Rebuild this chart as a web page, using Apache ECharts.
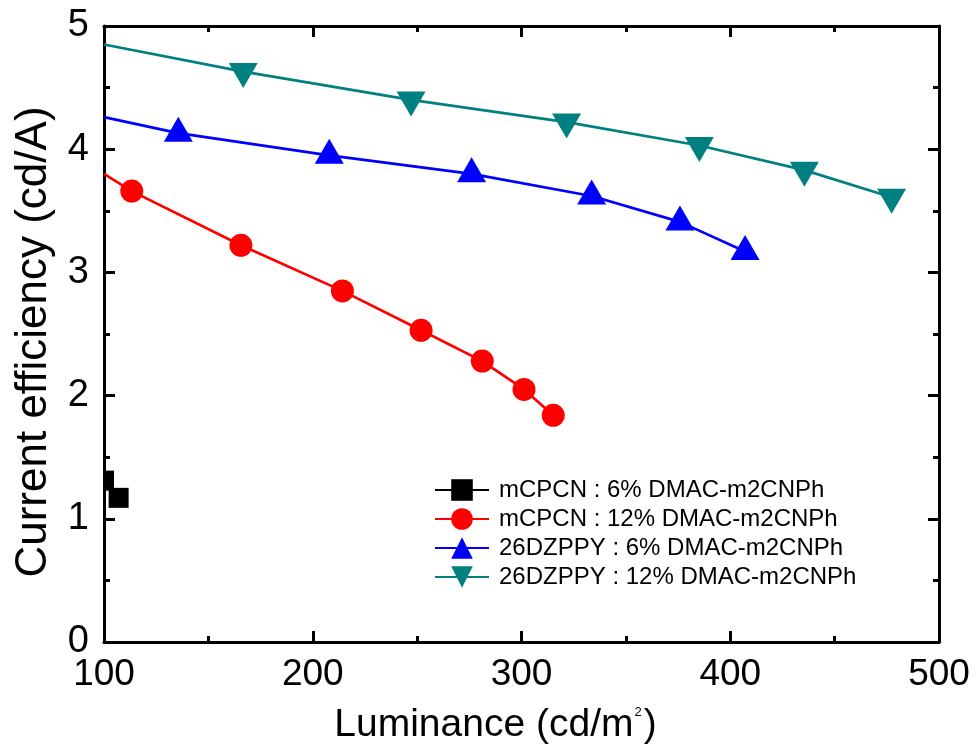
<!DOCTYPE html>
<html><head><meta charset="utf-8">
<script src="https://cdn.jsdelivr.net/npm/echarts@6/dist/echarts.min.js"></script>
<style>html,body{margin:0;padding:0;background:#fff}#c{width:977px;height:751px}</style>
</head><body><div id="c"></div>
<script>
const seriesNames = ['mCPCN : 6% DMAC-m2CNPh', 'mCPCN : 12% DMAC-m2CNPh', '26DZPPY : 6% DMAC-m2CNPh', '26DZPPY : 12% DMAC-m2CNPh'];
const blackX = [100, 107];
const blackY = [1.31, 1.17];
const redX = [100, 113.3, 165.6, 214.2, 251.9, 281.2, 301.2, 315.2];
const redY = [3.80, 3.66, 3.22, 2.85, 2.53, 2.28, 2.05, 1.84];
const blueX = [100, 135.6, 207.9, 276.1, 333.6, 375.9, 407.1];
const blueY = [4.26, 4.13, 3.95, 3.80, 3.62, 3.41, 3.17];
const tealX = [100, 166.7, 247.1, 321.6, 385.2, 435.5, 477.3];
const tealY = [4.85, 4.63, 4.40, 4.22, 4.03, 3.83, 3.61];
const xTicks = {min: 100, max: 500, interval: 100};
const yTicks = {min: 0, max: 5, interval: 1};

const FONT = 'Liberation Sans, Arial, sans-serif';
function pts(xs, ys, firstHidden) {
  return xs.map((x, i) => {
    const d = {value: [x, ys[i]]};
    if (i === 0 && firstHidden) d.symbol = 'none';
    return d;
  });
}
const blackData = pts(blackX, blackY, false);
// first black marker sits on the axis and is clipped to its right half
blackData[0].symbol = 'path://M0,0 H1 V2 H0 Z';
blackData[0].symbolSize = [10, 20];
blackData[0].symbolOffset = [5, 0];

const axisLineStyle = {color: '#000', width: 3};
function xAxisDef(pos, showLabel) {
  return {
    type: 'value', position: pos, min: xTicks.min, max: xTicks.max, interval: xTicks.interval,
    axisLine: {show: true, onZero: false, lineStyle: axisLineStyle},
    axisTick: {show: true, inside: true, length: 11, lineStyle: {color: '#000', width: 3}},
    minorTick: {show: true, splitNumber: 2, length: 6, lineStyle: {color: '#000', width: 3}},
    splitLine: {show: false},
    axisLabel: {show: showLabel, color: '#000', fontSize: 37, fontFamily: FONT, margin: 14},
  };
}
function yAxisDef(pos, showLabel) {
  return {
    type: 'value', position: pos, min: yTicks.min, max: yTicks.max, interval: yTicks.interval,
    axisLine: {show: true, onZero: false, lineStyle: axisLineStyle},
    axisTick: {show: true, inside: true, length: 11, lineStyle: {color: '#000', width: 3}},
    minorTick: {show: true, splitNumber: 2, length: 6, lineStyle: {color: '#000', width: 3}},
    splitLine: {show: false},
    axisLabel: {show: showLabel, color: '#000', fontSize: 38, fontFamily: FONT, margin: 15},
  };
}
const xa0 = xAxisDef('bottom', true);
xa0.name = 'Luminance (cd/m{sup|2})';
xa0.nameLocation = 'middle';
xa0.nameGap = 64;
xa0.nameTextStyle = {color: '#000', fontSize: 39, fontFamily: FONT, padding: [0, 52, 0, 0],
  rich: {sup: {fontSize: 13, fontFamily: FONT, color: '#000', verticalAlign: 'top', padding: [0, 2, 0, 1]}}};
const ya0 = yAxisDef('left', true);
ya0.name = 'Current efficiency (cd/A)';
ya0.nameLocation = 'middle';
ya0.nameGap = 48;
ya0.nameTextStyle = {color: '#000', fontSize: 44, fontFamily: FONT, padding: [0, 16, 0, 0]};

const chart = echarts.init(document.getElementById('c'), null, {renderer: 'canvas'});
chart.setOption({
  animation: false,
  backgroundColor: '#fff',
  grid: {left: 104, right: 38, top: 26, bottom: 109, containLabel: false},
  xAxis: [xa0, xAxisDef('top', false)],
  yAxis: [ya0, yAxisDef('right', false)],
  legend: {
    left: 429, top: 473, orient: 'vertical',
    itemWidth: 54, itemHeight: 27, itemGap: 5,
    textStyle: {color: '#000', fontSize: 24, fontFamily: FONT, padding: [0, 0, 0, 5]},
    data: seriesNames
  },
  series: [
    {name: seriesNames[0], type: 'line', data: blackData, symbol: 'rect', symbolSize: 20,
     color: '#000', lineStyle: {width: 2.7, color: '#000'}, itemStyle: {color: '#000'}, clip: true},
    {name: seriesNames[1], type: 'line', data: pts(redX, redY, true), symbol: 'circle', symbolSize: 23,
     color: '#ff0000', lineStyle: {width: 2.7, color: '#ff0000'}, itemStyle: {color: '#ff0000'}, clip: true},
    {name: seriesNames[2], type: 'line', data: pts(blueX, blueY, true), symbol: 'triangle', symbolSize: [29, 25],
     symbolOffset: [0, -4],
     color: '#0000ff', lineStyle: {width: 2.7, color: '#0000ff'}, itemStyle: {color: '#0000ff'}, clip: true},
    {name: seriesNames[3], type: 'line', data: pts(tealX, tealY, true), symbol: 'triangle', symbolSize: [29, 25],
     symbolRotate: 180, symbolOffset: [0, 4],
     color: '#008080', lineStyle: {width: 2.7, color: '#008080'}, itemStyle: {color: '#008080'}, clip: true}
  ]
});
</script>
</body></html>
